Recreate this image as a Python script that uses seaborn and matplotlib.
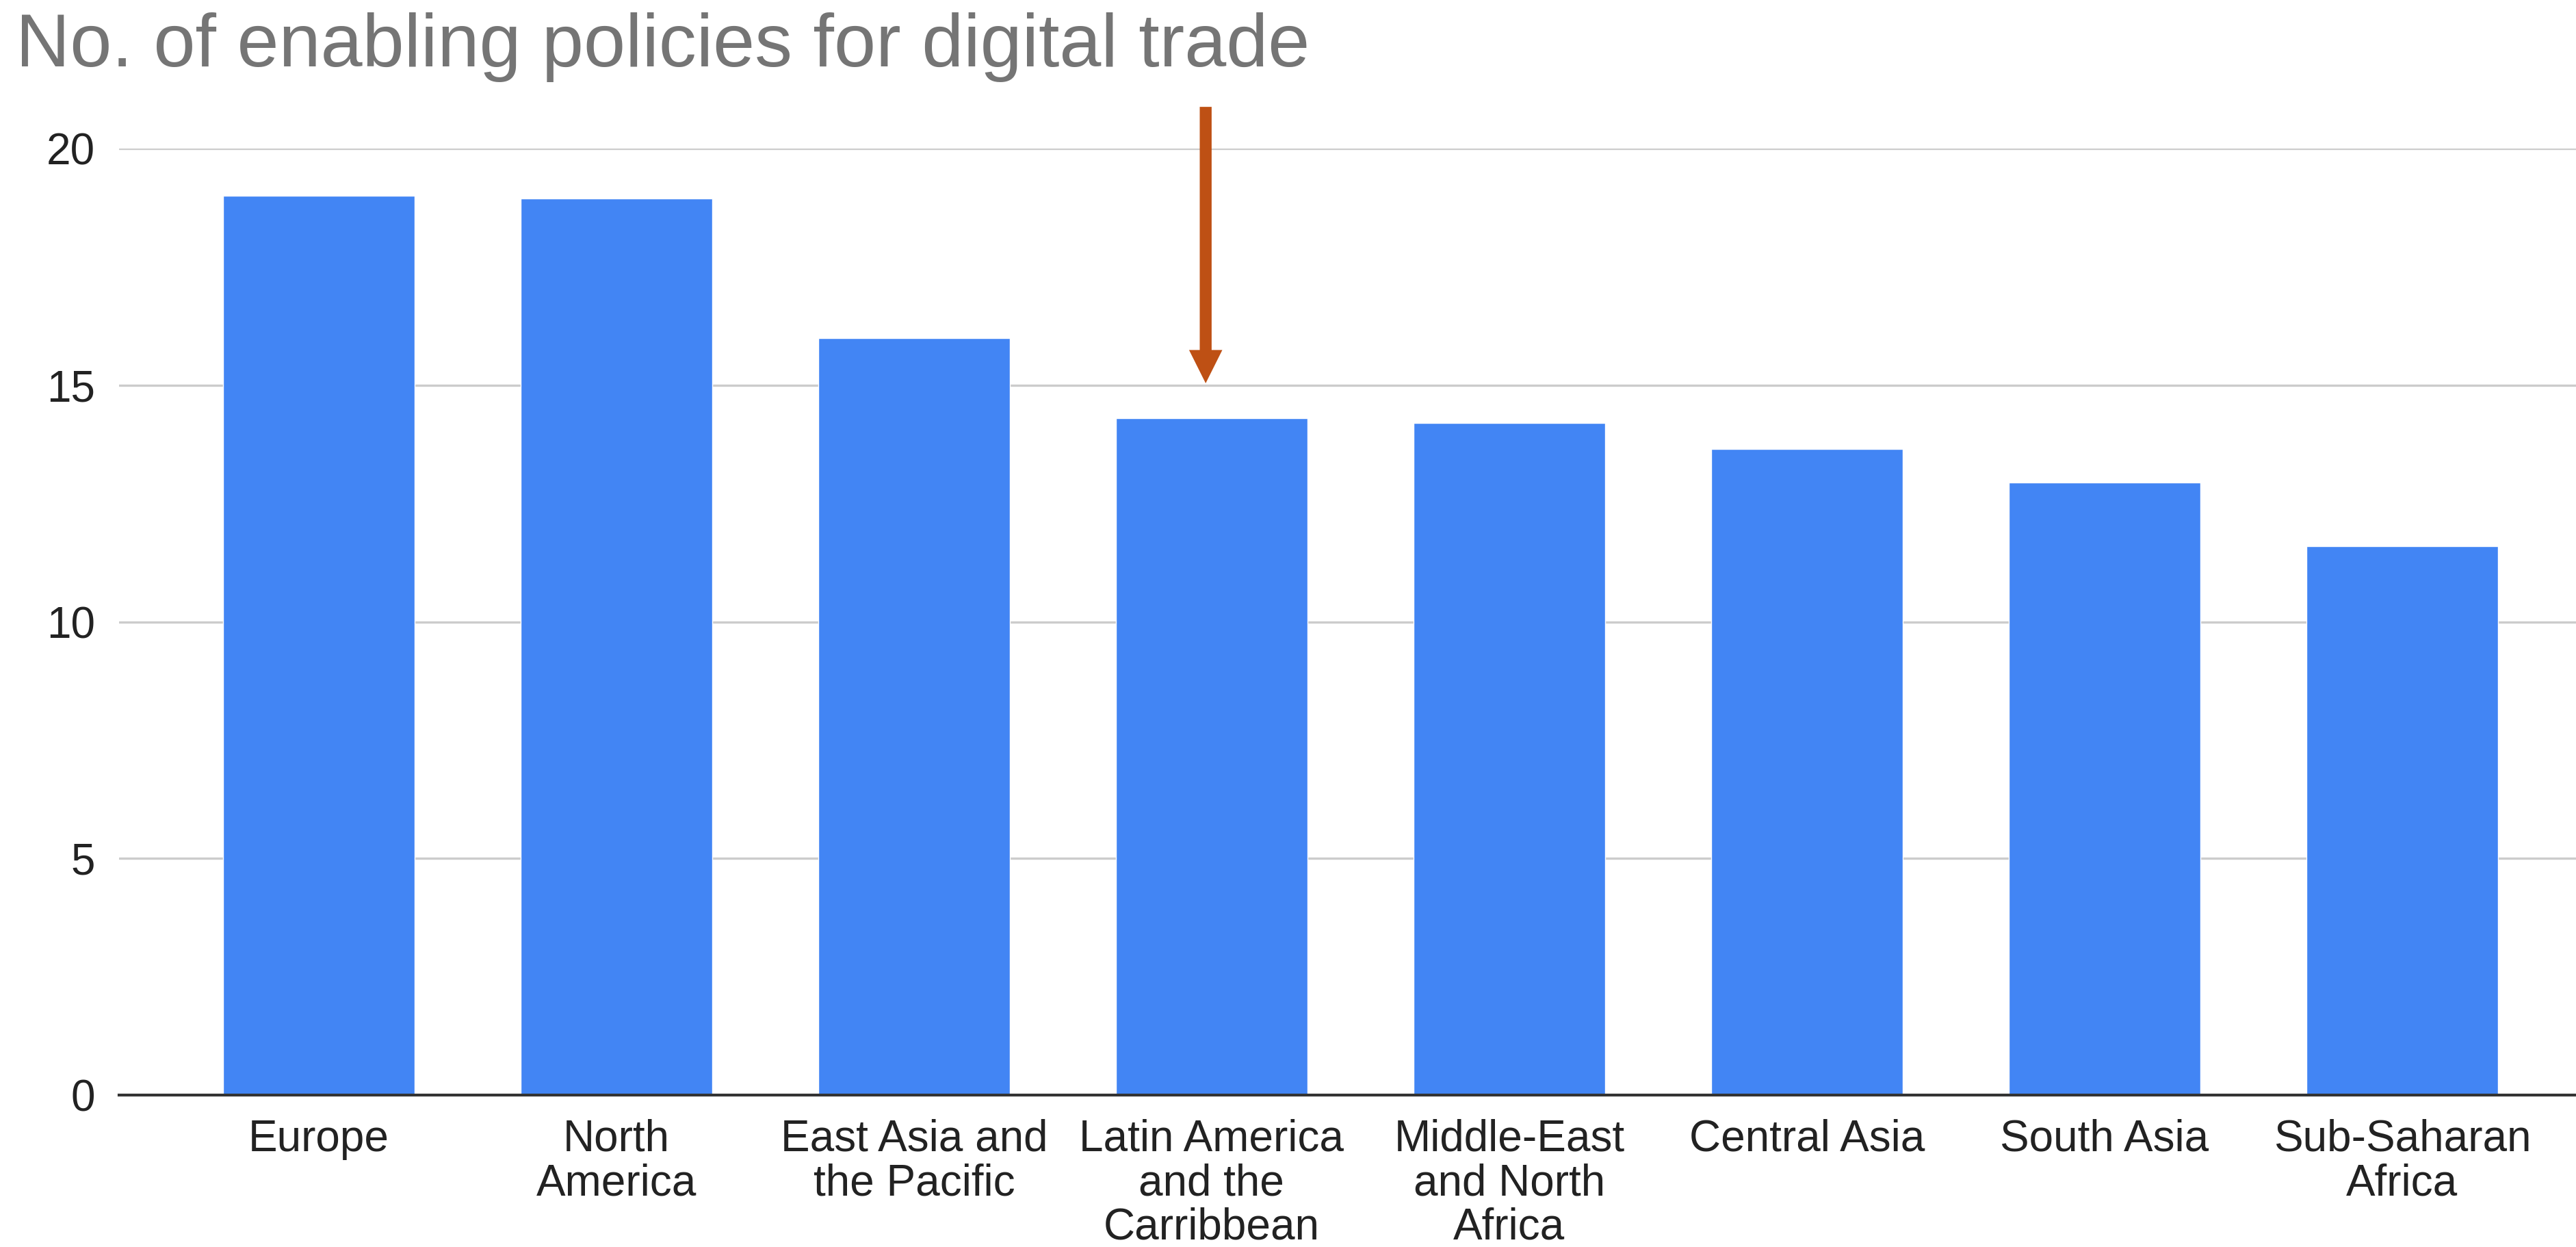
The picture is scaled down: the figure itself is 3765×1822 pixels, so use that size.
import matplotlib
matplotlib.use("Agg")
from matplotlib import pyplot as plt
import seaborn as sns
import pandas as pd

# values
regions = ["Europe", "North\nAmerica", "East Asia and\nthe Pacific",
           "Latin America\nand the\nCarribbean", "Middle-East\nand North\nAfrica",
           "Central Asia", "South Asia", "Sub-Saharan\nAfrica"]
policies = [19.0, 18.95, 16.0, 14.3, 14.2, 13.65, 12.95, 11.6]
y_ticks = [0, 5, 10, 15, 20]
title = "No. of enabling policies for digital trade"

df = pd.DataFrame({"Region": regions, "Policies": policies})

sns.set_theme(style="white")
plt.rcParams['font.family'] = ['Liberation Sans', 'DejaVu Sans']

fig = plt.figure(figsize=(37.65, 18.22), dpi=100)
ax = fig.add_axes([0.0462, 0.1218, 1 - 0.0462, 0.8809 - 0.1218])

sns.barplot(x="Region", y="Policies", data=df, color="#4285F4", saturation=1,
            width=0.644, ax=ax, zorder=3)

ax.set_ylim(0, 20)
ax.set_xlim(-0.671, 7.584)
ax.set_yticks(y_ticks)
ax.set_yticklabels([str(t) for t in y_ticks])
ax.yaxis.grid(True, color="#CCCCCC", linewidth=2.4, zorder=0)
ax.set_axisbelow(True)
ax.set_xlabel("")
ax.set_ylabel("")

for s in ["top", "right", "left"]:
    ax.spines[s].set_visible(False)
ax.spines["bottom"].set_color("#333333")
ax.spines["bottom"].set_linewidth(3)
ax.spines["bottom"].set_zorder(4)

ax.tick_params(axis="y", length=0, pad=25, labelsize=46, labelcolor="#222222")
ax.tick_params(axis="x", length=0, pad=25, labelsize=46, labelcolor="#222222")
for lbl in ax.get_xticklabels():
    lbl.set_linespacing(1.09)

# arrow pointing at Latin America
ax.annotate("", xy=(2.98, 15.04), xytext=(2.98, 20.88),
            arrowprops=dict(width=12.5, headwidth=35, headlength=35,
                            shrink=0, color="#BE5014", linewidth=0),
            annotation_clip=False, zorder=5)

fig.text(0.006, 0.9468, title, fontsize=79, color="#757575",
         ha="left", va="baseline")

fig.savefig("out.png", dpi=100, facecolor="white")
